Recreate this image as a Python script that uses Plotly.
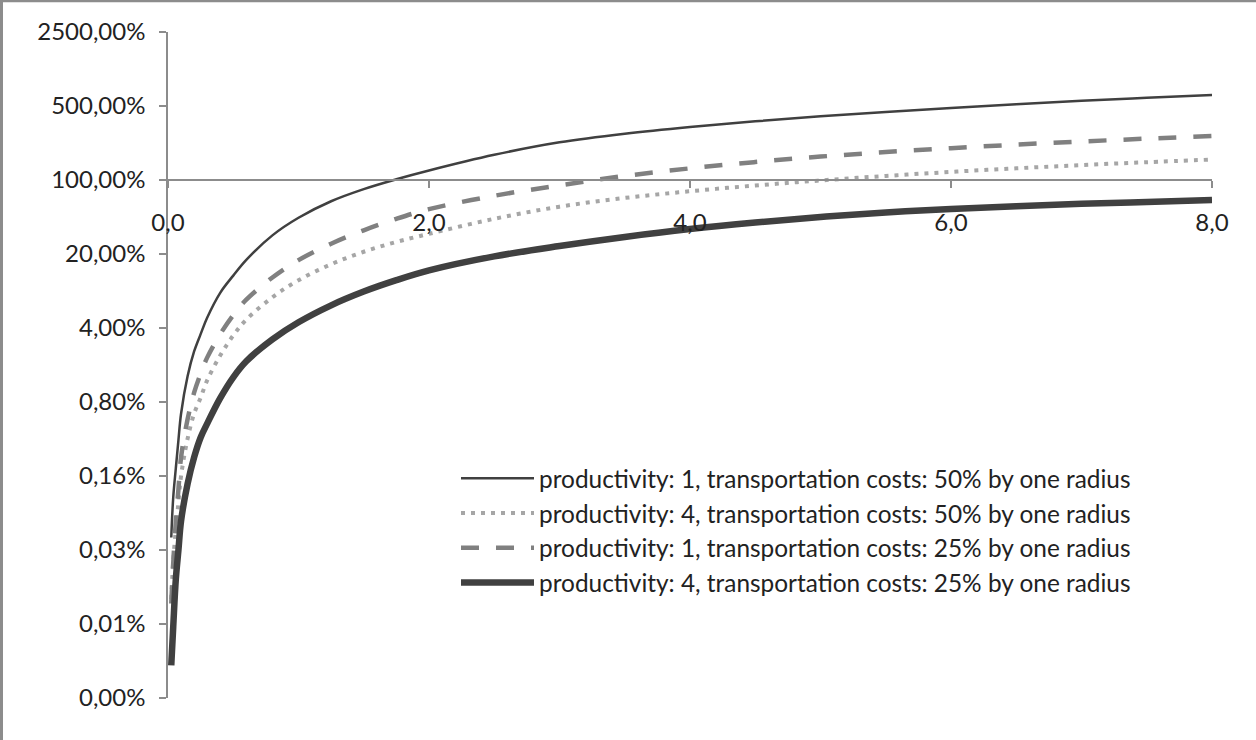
import math
import plotly.graph_objects as go

# ---------------- data ----------------
x_vals = [0.025, 0.04, 0.06, 0.08, 0.10, 0.15, 0.20, 0.25, 0.30, 0.40, 0.50, 0.60,
          0.80, 1.00, 1.25, 1.50, 1.75, 2.00, 2.50, 3.00, 3.50, 4.00, 4.50, 5.00,
          5.50, 6.00, 6.50, 7.00, 7.50, 8.00]

# productivity 1, transportation costs 50 %
p1_50 = [0.00042, 0.0010, 0.0019, 0.0035, 0.0062, 0.014, 0.024, 0.035, 0.050, 0.086,
         0.125, 0.176, 0.30, 0.44, 0.63, 0.82, 1.016, 1.23, 1.73, 2.27, 2.74, 3.17,
         3.58, 3.99, 4.40, 4.80, 5.20, 5.60, 5.97, 6.35]

# productivity 4, transportation costs 50 %
p4_50 = [0.00011, 0.00025, 0.0005, 0.0009, 0.0016, 0.0036, 0.0062, 0.0088, 0.0128,
         0.022, 0.034, 0.048, 0.078, 0.113, 0.16, 0.21, 0.26, 0.31, 0.43, 0.56, 0.677,
         0.783, 0.887, 0.99, 1.092, 1.193, 1.29, 1.383, 1.473, 1.56]

# productivity 1, transportation costs 25 %
p1_25 = [0.0001, 0.00024, 0.0006, 0.0012, 0.0024, 0.0055, 0.0098, 0.0148, 0.021,
         0.035, 0.053, 0.074, 0.12, 0.175, 0.25, 0.335, 0.43, 0.53, 0.71, 0.89, 1.092,
         1.288, 1.479, 1.663, 1.836, 2.00, 2.158, 2.31, 2.458, 2.60]

# productivity 4, transportation costs 25 %
p4_25 = [0.000026, 0.00006, 0.00017, 0.00032, 0.0006, 0.00135, 0.0024, 0.0037,
         0.0050, 0.0087, 0.0137, 0.0194, 0.0312, 0.0453, 0.0655, 0.0883, 0.1131, 0.140,
         0.190, 0.238, 0.290, 0.344, 0.396, 0.447, 0.494, 0.532, 0.565, 0.595, 0.621,
         0.647]

series_names = [
    "productivity: 1, transportation costs: 50% by one radius",
    "productivity: 4, transportation costs: 50% by one radius",
    "productivity: 1, transportation costs: 25% by one radius",
    "productivity: 4, transportation costs: 25% by one radius",
]

y_tick_vals = [0.0000128, 0.000064, 0.00032, 0.0016, 0.008, 0.04, 0.2, 1, 5, 25]
y_tick_text = ["0,00%", "0,01%", "0,03%", "0,16%", "0,80%", "4,00%", "20,00%",
               "100,00%", "500,00%", "2500,00%"]
x_tick_vals = [0, 2, 4, 6, 8]
x_tick_text = ["0,0", "2,0", "4,0", "6,0", "8,0"]

# ---------------- layout geometry ----------------
W, H = 1256, 740
L, R, T, B = 168, 44, 32, 42
PW, PH = W - L - R, H - T - B

ylo, yhi = math.log10(y_tick_vals[0]), math.log10(y_tick_vals[-1])
x_cross = (math.log10(1) - ylo) / (yhi - ylo)   # x axis crosses at 100 %

FONT = "Lato, 'Open Sans', sans-serif"
FS_TICK = 24
FS_LEG = 24.4
TXT = "#222222"
AX = "#8c8c8c"

styles = [
    dict(color="#404040", width=2.5, dash="solid"),
    dict(color="#a6a6a6", width=4, dash="4px,6px"),
    dict(color="#808080", width=4.5, dash="18px,17px"),
    dict(color="#404040", width=6.5, dash="solid"),
]
series = [p1_50, p4_50, p1_25, p4_25]

fig = go.Figure()
for name, ys, st in zip(series_names, series, styles):
    fig.add_trace(go.Scatter(x=x_vals, y=ys, mode="lines", name=name,
                             line=dict(color=st["color"], width=st["width"],
                                       dash=st["dash"], shape="spline")))

fig.update_layout(
    width=W, height=H,
    margin=dict(l=L, r=R, t=T, b=B, pad=0),
    paper_bgcolor="white", plot_bgcolor="white",
    font=dict(family=FONT, size=FS_TICK, color=TXT),
    showlegend=True,
    legend=dict(x=(456 - L) / PW, y=(H - B - 456) / PH, xanchor="left", yanchor="top",
                bgcolor="rgba(0,0,0,0)", borderwidth=0, itemwidth=73,
                font=dict(family=FONT, size=FS_LEG, color=TXT)),
    xaxis=dict(range=[0, 8], showgrid=False, zeroline=False,
               anchor="free", position=x_cross,
               showline=True, linecolor=AX, linewidth=1.5,
               ticks="outside", ticklen=7, tickcolor=AX, tickwidth=1.5,
               tickvals=x_tick_vals, ticktext=x_tick_text,
               ticklabelstandoff=14,
               tickfont=dict(family=FONT, size=FS_TICK, color=TXT)),
    yaxis=dict(type="log", range=[ylo, yhi], showgrid=False, zeroline=False,
               showline=True, linecolor=AX, linewidth=1.5,
               ticks="outside", ticklen=7, tickcolor=AX, tickwidth=1.5,
               tickvals=y_tick_vals, ticktext=y_tick_text,
               ticklabelstandoff=9,
               tickfont=dict(family=FONT, size=FS_TICK, color=TXT)),
    shapes=[
        # outer frame (left and top edges of the picture)
        dict(type="line", xref="paper", yref="paper",
             x0=(1.5 - L) / PW, x1=(1.5 - L) / PW, y0=-B / PH, y1=(H - B) / PH,
             line=dict(color="#8c8c8c", width=3)),
        dict(type="line", xref="paper", yref="paper",
             x0=-L / PW, x1=(W - L) / PW, y0=(H - B - 1) / PH, y1=(H - B - 1) / PH,
             line=dict(color="#8c8c8c", width=2.5)),
    ],
)

fig.write_html("out.html")
